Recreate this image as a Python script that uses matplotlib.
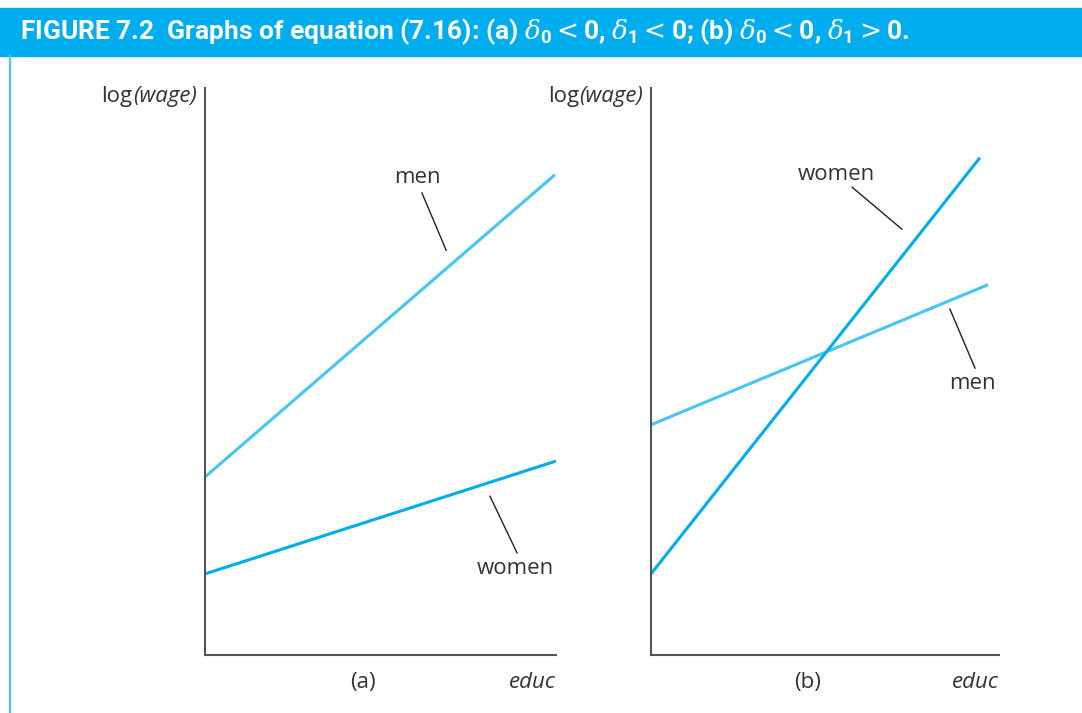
import matplotlib.pyplot as plt
from matplotlib.patches import Rectangle
from matplotlib.lines import Line2D

# line endpoints (educ from 0 to 10, log(wage) from 0 to 10)
a_men_x = [0, 9.97]
a_men_y = [3.14, 8.47]
a_women_x = [0, 10]
a_women_y = [1.43, 3.42]

b_men_x = [0, 9.68]
b_men_y = [4.06, 6.53]
b_women_x = [0, 9.45]
b_women_y = [1.43, 8.77]

MEN_C = "#45c6f3"
WOMEN_C = "#00aeef"
AX_C = "#555555"
TXT_C = "#333333"
FONT = "Open Sans"
FS = 16

plt.rcParams["mathtext.fontset"] = "custom"
plt.rcParams["mathtext.rm"] = "DejaVu Sans"
plt.rcParams["mathtext.bf"] = "Roboto:bold"
plt.rcParams["mathtext.it"] = "DejaVu Serif:italic"

W, H = 1082, 713
fig = plt.figure(figsize=(W / 100, H / 100), dpi=100)


def fx(px):
    return px / W


def fy(py):
    return 1 - py / H


# title bar
fig.patches.append(Rectangle((0, fy(56)), 1, fy(8) - fy(56), transform=fig.transFigure,
                             color=WOMEN_C, zorder=0))
fig.lines.append(Line2D([fx(10), fx(10)], [0, fy(56)], transform=fig.transFigure,
                        color=MEN_C, lw=1.5))
title = (r"FIGURE 7.2  Graphs of equation (7.16): (a) $\delta_\mathbf{0} < \mathbf{0}$, "
         r"$\delta_\mathbf{1} < \mathbf{0}$; (b) $\delta_\mathbf{0} < \mathbf{0}$, "
         r"$\delta_\mathbf{1} > \mathbf{0}$.")
fig.text(fx(20), fy(32), title, color="white", fontsize=19, fontweight="bold",
         family="Roboto", va="center", ha="left")


def panel(left_px, right_px, men, women, labels, tag):
    ax = fig.add_axes([fx(left_px), fy(655), fx(right_px) - fx(left_px), fy(88) - fy(655)])
    ax.set_xlim(0, 10)
    ax.set_ylim(0, 10)
    for s in ["top", "right"]:
        ax.spines[s].set_visible(False)
    for s in ["left", "bottom"]:
        ax.spines[s].set_color(AX_C)
        ax.spines[s].set_linewidth(1.5)
    ax.set_xticks([])
    ax.set_yticks([])
    ax.patch.set_alpha(0)
    ax.plot(men[0], men[1], color=MEN_C, lw=2.2, solid_capstyle="butt")
    ax.plot(women[0], women[1], color=WOMEN_C, lw=2.2, solid_capstyle="butt")
    for txt, tx, ty, lx, ly in labels:
        ax.text(tx, ty, txt, ha="center", va="center", fontsize=FS, color=TXT_C, family=FONT)
        ax.plot(lx, ly, color="#222222", lw=1, clip_on=False)
    # y label: "log" upright + "(wage)" italic
    t2 = ax.text(-0.24, 9.85, "(wage)", ha="right", va="center", fontsize=FS, color=TXT_C,
                 family=FONT, style="italic", clip_on=False)
    fig.canvas.draw()
    bb = t2.get_window_extent()
    x0 = ax.transData.inverted().transform((bb.x0, bb.y0))[0]
    ax.text(x0, 9.85, "log", ha="right", va="center", fontsize=FS, color=TXT_C, family=FONT)
    ax.text(4.5, -0.48, tag, ha="center", va="center", fontsize=FS, color=TXT_C, family=FONT)
    ax.text(10.0, -0.48, "educ", ha="right", va="center", fontsize=FS, color=TXT_C,
            family=FONT, style="italic")
    return ax


panel(205, 556, (a_men_x, a_men_y), (a_women_x, a_women_y),
      [("men", 6.04, 8.43, [6.18, 6.87], [8.15, 7.14]),
       ("women", 8.83, 1.53, [8.12, 8.89], [2.80, 1.80])], "(a)")
panel(651, 999, (b_men_x, b_men_y), (b_women_x, b_women_y),
      [("women", 5.32, 8.48, [5.78, 7.21], [8.25, 7.51]),
       ("men", 9.25, 4.78, [8.59, 9.31], [6.10, 5.06])], "(b)")

fig.savefig("out.png", dpi=100)
